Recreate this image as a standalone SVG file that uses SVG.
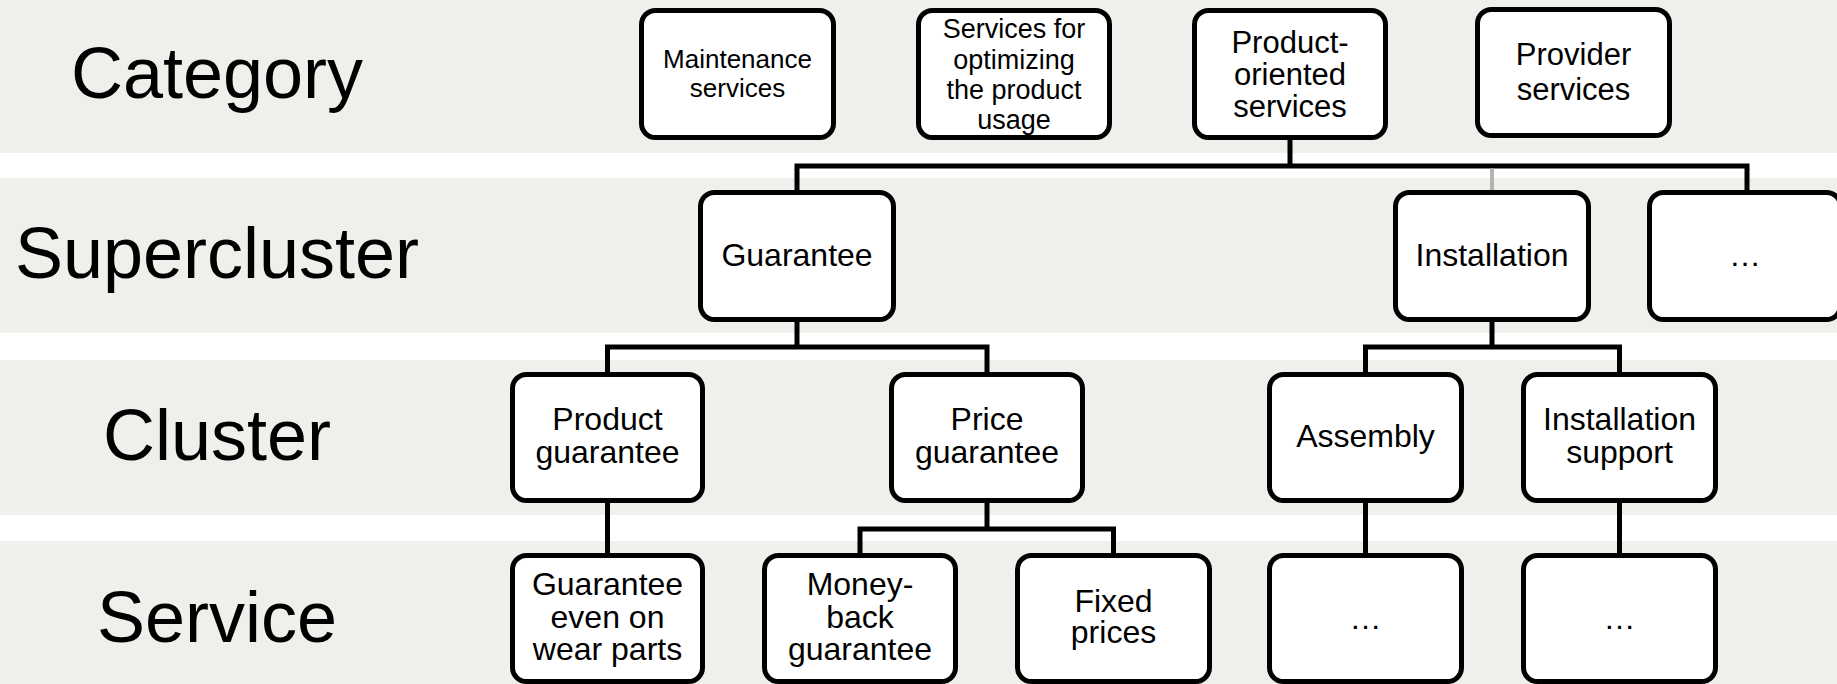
<svg xmlns="http://www.w3.org/2000/svg" width="1837" height="684" viewBox="0 0 1837 684">
  <style>
    .band { fill: #F0EFEB; }
    .level { font-family: "Liberation Sans", Arial, sans-serif; font-size: 72px; fill: #000; text-anchor: middle; }
    .box { fill: #FFFFFF; stroke: #000; stroke-width: 5; }
    .t { font-family: "Liberation Sans", Arial, sans-serif; font-size: 32px; fill: #000; text-anchor: middle; }
    .t31 { font-size: 31px; }
    .t27 { font-size: 27px; }
    .t26 { font-size: 26px; }
    .link { fill: none; stroke: #000; stroke-width: 5; stroke-linejoin: miter; }
    .link-faint { fill: none; stroke: #B4B4AD; stroke-width: 4; }
  </style>

  <rect width="1837" height="684" fill="#FFFFFF"/>

  <!-- level bands -->
  <g id="bands">
    <rect class="band" x="0" y="0" width="1837" height="153"/>
    <rect class="band" x="0" y="178" width="1837" height="155"/>
    <rect class="band" x="0" y="360" width="1837" height="155"/>
    <rect class="band" x="0" y="541" width="1837" height="143"/>
  </g>

  <!-- level labels -->
  <g id="levels">
    <text class="level" x="217" y="98">Category</text>
    <text class="level" x="217" y="278">Supercluster</text>
    <text class="level" x="217" y="460">Cluster</text>
    <text class="level" x="217" y="642">Service</text>
  </g>

  <!-- connectors -->
  <g id="connectors">
    <path class="link" d="M1290 140 V166"/>
    <path class="link" d="M797 190 V166 H1747 V190"/>
    <path class="link-faint" d="M1492 168.5 V190"/>
    <path class="link" d="M797 322 V347"/>
    <path class="link" d="M607.5 372 V347 H987 V372"/>
    <path class="link" d="M1492 322 V347"/>
    <path class="link" d="M1365.5 372 V347 H1619.5 V372"/>
    <path class="link" d="M607.5 503 V553"/>
    <path class="link" d="M987 503 V529"/>
    <path class="link" d="M860 553 V529 H1113.5 V553"/>
    <path class="link" d="M1365.5 503 V553"/>
    <path class="link" d="M1619.5 503 V553"/>
  </g>

  <!-- category row -->
  <g id="maintenance-services">
    <rect class="box" x="641.5" y="10.5" width="192" height="127" rx="14"/>
    <text class="t t26" x="737.5" y="68">Maintenance</text>
    <text class="t t26" x="737.5" y="97">services</text>
  </g>
  <g id="usage-optimization-services">
    <rect class="box" x="918.5" y="10.5" width="191" height="127" rx="14"/>
    <text class="t t27" x="1014" y="38">Services for</text>
    <text class="t t27" x="1014" y="68.5">optimizing</text>
    <text class="t t27" x="1014" y="99">the product</text>
    <text class="t t27" x="1014" y="129">usage</text>
  </g>
  <g id="product-oriented-services">
    <rect class="box" x="1194.5" y="10.5" width="191" height="127" rx="14"/>
    <text class="t t31" x="1290" y="53">Product-</text>
    <text class="t t31" x="1290" y="85">oriented</text>
    <text class="t t31" x="1290" y="117">services</text>
  </g>
  <g id="provider-services">
    <rect class="box" x="1477.5" y="9.5" width="192" height="126" rx="14"/>
    <text class="t t31" x="1573.5" y="65">Provider</text>
    <text class="t t31" x="1573.5" y="100">services</text>
  </g>

  <!-- supercluster row -->
  <g id="guarantee">
    <rect class="box" x="700.5" y="192.5" width="193" height="127" rx="14"/>
    <text class="t" x="797" y="266">Guarantee</text>
  </g>
  <g id="installation">
    <rect class="box" x="1395.5" y="192.5" width="193" height="127" rx="14"/>
    <text class="t" x="1492" y="266">Installation</text>
  </g>
  <g id="supercluster-more">
    <rect class="box" x="1649.5" y="192.5" width="191" height="127" rx="14"/>
    <text class="t" x="1745" y="266">…</text>
  </g>

  <!-- cluster row -->
  <g id="product-guarantee">
    <rect class="box" x="512.5" y="374.5" width="190" height="126" rx="14"/>
    <text class="t" x="607.5" y="430">Product</text>
    <text class="t" x="607.5" y="463">guarantee</text>
  </g>
  <g id="price-guarantee">
    <rect class="box" x="891.5" y="374.5" width="191" height="126" rx="14"/>
    <text class="t" x="987" y="430">Price</text>
    <text class="t" x="987" y="463">guarantee</text>
  </g>
  <g id="assembly">
    <rect class="box" x="1269.5" y="374.5" width="192" height="126" rx="14"/>
    <text class="t" x="1365.5" y="447">Assembly</text>
  </g>
  <g id="installation-support">
    <rect class="box" x="1523.5" y="374.5" width="192" height="126" rx="14"/>
    <text class="t" x="1619.5" y="430">Installation</text>
    <text class="t" x="1619.5" y="463">support</text>
  </g>

  <!-- service row -->
  <g id="wear-parts-guarantee">
    <rect class="box" x="512.5" y="555.5" width="190" height="126" rx="14"/>
    <text class="t" x="607.5" y="595">Guarantee</text>
    <text class="t" x="607.5" y="628">even on</text>
    <text class="t" x="607.5" y="660">wear parts</text>
  </g>
  <g id="money-back-guarantee">
    <rect class="box" x="764.5" y="555.5" width="191" height="126" rx="14"/>
    <text class="t" x="860" y="595">Money-</text>
    <text class="t" x="860" y="628">back</text>
    <text class="t" x="860" y="660">guarantee</text>
  </g>
  <g id="fixed-prices">
    <rect class="box" x="1017.5" y="555.5" width="192" height="126" rx="14"/>
    <text class="t" x="1113.5" y="612">Fixed</text>
    <text class="t" x="1113.5" y="643">prices</text>
  </g>
  <g id="assembly-services">
    <rect class="box" x="1269.5" y="555.5" width="192" height="126" rx="14"/>
    <text class="t" x="1365.5" y="629">…</text>
  </g>
  <g id="installation-support-services">
    <rect class="box" x="1523.5" y="555.5" width="192" height="126" rx="14"/>
    <text class="t" x="1619.5" y="629">…</text>
  </g>
</svg>
